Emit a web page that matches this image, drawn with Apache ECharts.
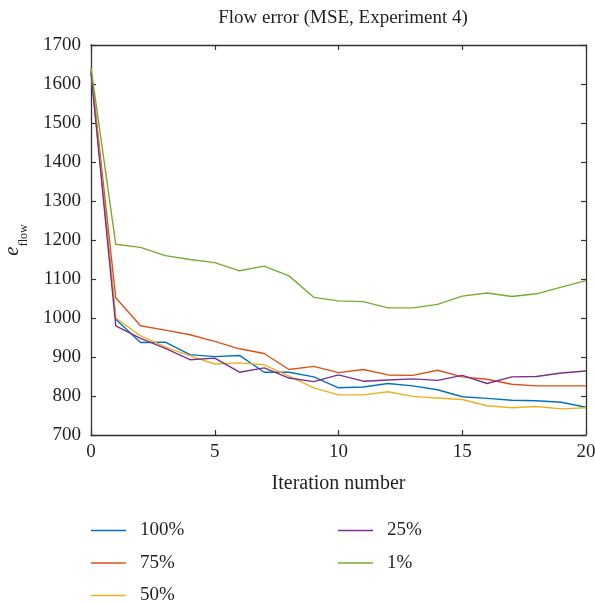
<!DOCTYPE html>
<html>
<head>
<meta charset="utf-8">
<script src="https://cdn.jsdelivr.net/npm/echarts@6/dist/echarts.min.js"></script>
<style>html,body{margin:0;padding:0;background:#fff}#c{width:595px;height:603px}</style>
</head>
<body>
<div id="c"></div>
<script>
var iterations = [0,1,2,3,4,5,6,7,8,9,10,11,12,13,14,15,16,17,18,19,20];
var p100 = [1635, 997, 937, 938, 906, 901, 904, 861, 861, 849, 821, 823, 832, 826, 816, 798, 794, 789, 788, 784, 771];
var p75  = [1635, 1052, 980, 969, 957, 940, 921, 909, 868, 876, 860, 868, 854, 853, 866, 849, 843, 830, 826, 826, 826];
var p50  = [1635, 1000, 954, 926, 903, 882, 885, 880, 851, 821, 803, 803, 811, 799, 795, 791, 775, 770, 773, 767, 770];
var p25  = [1630, 980, 948, 922, 893, 897, 861, 872, 846, 837, 854, 838, 841, 844, 840, 853, 832, 849, 850, 859, 864];
var p1   = [1642, 1189, 1181, 1160, 1150, 1142, 1121, 1133, 1108, 1053, 1044, 1042, 1026, 1026, 1035, 1056, 1064, 1055, 1062, 1079, 1096];
var seriesNames = ['100%', '75%', '50%', '25%', '1%'];
var seriesValues = [p100, p75, p50, p25, p1];
var seriesColors = ['#0072BD', '#D95319', '#EDB120', '#7E2F8E', '#77AC30'];
var xTicks = {min: 0, max: 20, interval: 5};
var yTicks = {min: 700, max: 1700, interval: 100};

var FONT = 'Liberation Serif';
var TXT = '#231f20';
var AX = '#333';

function pairs(vals) { return iterations.map(function (x, i) { return [x, vals[i]]; }); }
function plain(v) { return String(v); }

var chart = echarts.init(document.getElementById('c'), null, {renderer: 'canvas'});
var axisBase = {
  axisLine: {show: true, onZero: false, lineStyle: {color: AX, width: 1.3}},
  axisTick: {show: true, inside: true, length: 5, lineStyle: {color: AX, width: 1.2}},
  splitLine: {show: false}
};
var legendBase = {
  orient: 'vertical', top: 521, height: 120, width: 150, padding: 0,
  itemWidth: 35, itemHeight: 18, itemGap: 13.5, icon: 'path://M0,8.3L35,8.3L35,9.7L0,9.7Z',
  textStyle: {fontFamily: FONT, fontSize: 19, color: TXT, lineHeight: 18, padding: [0, 0, 0, 9]}
};
var option = {
  animation: false,
  textStyle: {fontFamily: FONT},
  title: {
    text: 'Flow error (MSE, Experiment 4)',
    left: 338, top: 4, textAlign: 'center',
    textStyle: {fontFamily: FONT, fontSize: 19, fontWeight: 'normal', color: TXT}
  },
  grid: {left: 91, right: 9, top: 45, bottom: 168, containLabel: false, outerBoundsMode: 'none'},
  xAxis: [
    Object.assign({
      type: 'value', position: 'bottom', min: xTicks.min, max: xTicks.max, interval: xTicks.interval,
      name: 'Iteration number', nameLocation: 'middle', nameGap: 39,
      nameTextStyle: {fontFamily: FONT, fontSize: 20, color: TXT},
      axisLabel: {fontFamily: FONT, fontSize: 19, color: TXT, margin: 8, formatter: plain}
    }, axisBase),
    Object.assign({
      type: 'value', position: 'top', min: xTicks.min, max: xTicks.max, interval: xTicks.interval,
      axisLabel: {show: false}
    }, axisBase)
  ],
  yAxis: [
    Object.assign({
      type: 'value', position: 'left', min: yTicks.min, max: yTicks.max, interval: yTicks.interval,
      name: '{e|e}{s|flow}', nameLocation: 'middle', nameGap: 61, nameRotate: 90,
      nameTextStyle: {
        fontFamily: FONT, color: TXT,
        rich: {
          e: {fontFamily: FONT, fontStyle: 'italic', fontSize: 21, lineHeight: 36, verticalAlign: 'middle', color: TXT},
          s: {fontFamily: FONT, fontSize: 12, lineHeight: 12, verticalAlign: 'bottom', color: TXT}
        }
      },
      axisLabel: {fontFamily: FONT, fontSize: 19, color: TXT, margin: 10, formatter: plain}
    }, axisBase),
    Object.assign({
      type: 'value', position: 'right', min: yTicks.min, max: yTicks.max, interval: yTicks.interval,
      axisLabel: {show: false}
    }, axisBase)
  ],
  legend: [
    Object.assign({data: seriesNames.slice(0, 3), left: 91}, legendBase),
    Object.assign({data: seriesNames.slice(3), left: 338}, legendBase)
  ],
  series: seriesNames.map(function (n, i) {
    return {
      name: n, type: 'line', xAxisIndex: 0, yAxisIndex: 0,
      data: pairs(seriesValues[i]),
      symbol: 'none', showSymbol: false,
      itemStyle: {color: seriesColors[i]},
      lineStyle: {color: seriesColors[i], width: 1.4},
      z: 2 + i
    };
  })
};
chart.setOption(option);
</script>
</body>
</html>
